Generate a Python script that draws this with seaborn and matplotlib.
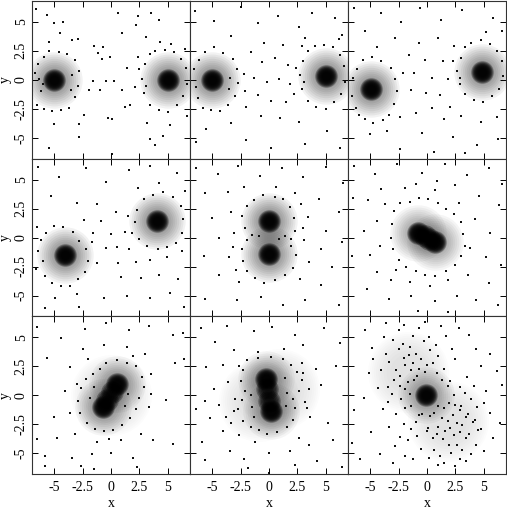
import matplotlib
matplotlib.use("Agg")
import matplotlib.pyplot as plt
import pandas as pd
import seaborn as sns

TICKS = [-5, -2.5, 0, 2.5, 5]
TICK_LABELS = ["-5", "-2.5", "0", "2.5", "5"]

# Centres of the solid cores
CORES = [
    [(-5, 0), (5, 0)],
    [(-5, 0), (5, 0.3)],
    [(-4.9, -0.8), (4.8, 0.7)],
    [(-4, -1.5), (4, 1.4)],
    [(0, -1.4), (0, 1.4)],
    [(-0.8, 0.4), (0.7, -0.4)],
    [(-0.7, -1), (0.5, 1)],
    [(-0.3, 1.4), (0.2, -1.4)],
    [(-0.1, 0)],
]
# Dark bridges seen between close pairs
BRIDGES = [
    [], [], [], [], [],
    [(-0.2, 0.1), (0.2, -0.1)],
    [(-0.35, -0.45), (0.1, 0.3)],
    [(-0.15, 0.5), (0, -0.5)],
    [],
]
# Centres of the grey haze around the cores
HAZE = [
    [(-5, 0), (5, 0)],
    [(-5, 0), (5, 0.3)],
    [(-4.9, -0.8), (4.8, 0.7)],
    [(-4, -1.5), (4, 1.4)],
    [(0, -1.4), (0, 1.4)],
    [(-0.8, 0.4), (0.7, -0.4)],
    [(-0.7, -1), (0.5, 1)],
    [(-0.3, 1.4), (0.2, -1.4)],
    [(-0.1, 0)],
]
# Centres of the wide faint lobes
LOBES = [
    [], [], [], [], [],
    [],
    [(0, 0)],
    [(-0.9, -0.5), (0.9, 0.5)],
    [(-1.7, 2), (1.8, -2.2)],
]

# Scattered single dots, estimated by eye panel by panel
P1 = [(-6.6,6.1),(-5.6,5.6),(-5,4.9),(-4.2,5),(0.6,5.8),(2.4,5.5),(3.5,5.8),(4.2,5.2),(2.2,4.7),(1,4),(3.1,3.7),(4.3,3.3),(5.3,3.1),(-1.5,2.9),(-0.7,2.8),(-1.1,2.3),(-3.4,3.4),(-2.9,3.5),(-4.5,4),(-5.4,3.3),(-0.1,2),(-0.8,1.8),(1.4,1),(0.3,-0.1),(-0.4,-0.1),(-1.6,-0.1),(1,-0.9),(-1.9,-0.9),(-1,-0.9),(1.2,-2.3),(1.7,-2.2),(-0.3,-3.3),(0.1,-3.4),(3.2,-3.7),(5.2,-3.9),(6.7,-3.1),(4.6,-4.8),(3.4,-5.1),(3.9,-5.6),(0.1,-6.4),(-5.4,-5.9),(-2.8,-4.9),(-5,-3.8),(-2.8,-3.8),(-2.4,-3),
(-6.7,0.6),(-6.4,1.4),(-6.1,-1),(-6.5,-2.2),(-5.9,2),(-5.4,2.5),(-4.6,2.4),(-3.9,2.2),(-3.2,1.7),(-2.8,0.8),(-2.9,-0.5),(-3.2,-1.5),(-3.7,-2.4),(-4.4,-2.6),(-5.2,-2.7),(-5.9,-2.5),(-3.4,0.4),(-3.5,-0.9),(-6.3,0.1),(-6,-0.4),
(3,1.4),(3.4,2.2),(3.9,2.5),(4.7,2.6),(5.5,2.4),(6.1,1.8),(6.6,1),(6.7,-0.4),(6.3,-1.4),(5.8,-2.2),(5,-2.8),(4.2,-2.6),(3.4,-2.2),(2.9,-1.1),(2.7,0.1),(3.1,-0.5),(2.5,0.9),(2.1,-0.6),(6.5,2.7),(2.4,2)]
P2 = [(-6.5,5.9),(-4.8,5.1),(-2.5,6.3),(-1,4.9),(0.8,5.5),(2.6,4.6),(3.8,5.8),(5.8,5.3),(6.4,3.9),(-3.3,3.8),(-0.4,3.2),(1.2,3),(2.9,2.9),(-1.6,2.4),(-0.6,1.5),(0.5,1.9),(1.7,1.3),(-1.3,0.2),(-0.2,-0.2),(0.9,0.1),(1.8,-0.4),(-1,-1.3),(0.2,-1.8),(1.5,-1.9),(-2,-2.3),(-0.7,-3.1),(1,-3.3),(2.6,-3.6),(-3.3,-3.7),(-5.5,-4.2),(-6.4,-5.4),(-2,-5.2),(0.2,-5.9),(3.2,-5.5),(5.1,-4.4),(6.2,-5.9),
(-6.6,0.9),(-6.4,-0.6),(-6.1,1.7),(-6.2,-1.6),(-5.6,2.4),(-4.8,2.8),(-4,2.3),(-3.2,1.8),(-2.8,0.9),(-2.7,-0.3),(-3,-1.4),(-3.6,-2.2),(-4.3,-2.7),(-5.1,-2.6),(-5.8,-2.4),(-3.4,0.2),(-3.5,-0.8),(-2.2,0.5),(-2.1,-1),
(3,1.6),(3.4,2.5),(4,2.9),(4.8,3),(5.6,2.8),(6.2,2.1),(6.6,1.2),(6.7,-0.2),(6.3,-1.2),(5.7,-1.9),(5,-2.5),(4.1,-2.3),(3.4,-1.8),(2.9,-0.8),(2.7,0.4),(3.1,-0.2),(2.4,1),(2.2,-1.2),(6.1,3.5),(3.2,3.6)]
P3 = [(-6.4,6.2),(-4,5.8),(-2.3,5),(-0.6,6.2),(1.2,5.2),(3.1,6),(5.8,5.3),(6.6,4.2),(-5.4,4.2),(-2.8,3.6),(-0.7,3.2),(1,3.6),(2.4,2.9),(-1.6,2.1),(-0.2,1.7),(1.4,1.6),(-1.1,0.6),(0.4,0.2),(1.8,0.1),(-1.4,-0.9),(-0.1,-1.1),(1.1,-1.3),(0.4,-2.4),(2,-2.3),(-1,-2.9),(1.5,-3.4),(3,-3.1),(4.7,-3.6),(6.1,-3.2),(-0.4,-4.6),(2.3,-4.9),(4.4,-5.6),(6.2,-5.1),(-2.4,-6),(0.6,-6.2),(3.3,-6.3),
(-6.5,0.2),(-6.6,-1.4),(-6.1,0.9),(-6.2,-2.4),(-5.6,1.7),(-4.8,2),(-4,1.6),(-3.2,1),(-2.8,0.1),(-2.6,-1),(-2.9,-2.1),(-3.3,-3),(-3.9,-3.5),(-4.7,-3.7),(-5.4,-3.4),(-6,-3),(-5,-4.7),(-3.5,-4.4),(-2.4,-3.2),(-2.1,0.6),(-4.4,2.8),
(3,1.9),(3.3,2.8),(3.9,3.2),(4.7,3.4),(5.5,3.1),(6.1,2.5),(6.6,1.6),(6.7,0.3),(6.3,-0.8),(5.7,-1.4),(4.9,-1.9),(4.1,-1.7),(3.3,-1.2),(2.9,-0.4),(2.6,0.8),(2.9,0.2),(2.3,1.6),(5.2,4.1)]
P4 = [(-6.4,6.1),(-4.6,5.2),(-2.2,6),(-0.4,4.8),(1.6,5.8),(3.4,6.2),(5.8,5.6),(6.5,4),(-5.3,3.6),(-3,3),(-1.2,2.9),(-2.4,1.5),(-0.9,1.4),(0.4,2.2),(-1.6,0.4),(0,0.3),(1.2,0.5),(0.5,-0.8),(-0.4,-0.9),(1.6,-1),(-1.2,-2.2),(0.6,-2.2),(2.2,-2.1),(3.4,-1.9),(4.9,-1.7),(6.2,-1.2),(0.9,-3.4),(2.6,-3.5),(4.2,-3.2),(5.9,-3.6),(1.4,-5),(3.4,-5.2),(5.2,-4.8),(-0.6,-5.2),(-2.8,-6),(-5.8,-6.1),(6.4,-6),(-6.5,0.9),
(-6.4,-1.2),(-6.6,-2.7),(-6.1,-0.2),(-5.7,0.4),(-5,1),(-4.2,0.9),(-3.3,0.5),(-2.8,-0.3),(-2.2,-1),(-2,-2),(-2.3,-3),(-2.9,-3.6),(-3.6,-4.2),(-4.4,-4.2),(-5.2,-3.9),(-5.8,-3.3),(-6,-2),(-3,-4.9),(-4.9,-5.2),(-1.7,-0.4),
(2.1,1.3),(2.3,2.4),(2.9,3.3),(3.7,3.7),(4.6,3.9),(5.4,3.5),(6.1,2.7),(6.3,1.6),(6.2,0.4),(5.7,-0.5),(4.9,-0.8),(4.1,-1),(3.2,-0.7),(2.5,-0.1),(1.8,0.4),(1.5,1.9),(2.4,4.3),(4.2,4.7)]
P5 = [(-6.4,6),(-4.5,5.5),(-2.7,6.2),(-0.8,5.3),(1.1,6),(3,5.2),(5,6.1),(6.5,4.7),(-5.6,3.8),(-3.6,3.9),(-2.2,4.4),(0.6,4.4),(2.3,3.8),(4.4,3.3),(6.1,2.2),(-5,1.7),(-3.3,2.2),(3.4,1.8),(5,0.6),(-4.4,0),(-3.1,0.4),(3.1,-0.2),(4.6,-1),(6.4,-0.4),(-5.7,-1.6),(-3.5,-1.7),(3.5,-2.1),(5.5,-2.5),(-4.4,-3.2),(-2.6,-3.8),(2.7,-3.6),(4.6,-4.1),(-5.6,-5.3),(-2.8,-5.4),(-0.7,-5.1),(1.2,-5.8),(3.2,-5.4),(6.1,-5.8),
(-2.4,1.9),(-2.1,0.8),(-1.9,2.7),(-1.3,3.2),(-0.5,3.7),(0.5,3.5),(1.2,3.3),(1.8,2.6),(2.2,1.7),(2.3,0.6),(1.9,-0.1),(-1.9,-0.2),(-2.4,-1),(-2.3,-2),(-1.9,-2.9),(-1.2,-3.5),(-0.4,-3.9),(0.5,-3.7),(1.4,-3.2),(2.1,-2.6),(2.4,-1.5),(1.9,-0.7),(-1.5,0.2),(1.4,0.1),(-0.9,0.1),(0.9,-0.1),(-3.2,-0.8),(3,0.8),(-2.9,-2.8),(2.8,2.9)]
P6 = [(-6.4,6.2),(-4.6,5.5),(-2.6,6.3),(-0.4,5.6),(1.6,6.3),(3.5,5.4),(5.4,6),(6.6,4.6),(-6.5,3.4),(-5.2,3.2),(-4,4.2),(-1.9,4.3),(0.7,4.1),(2.5,4.5),(4.6,3.6),(6.3,2.8),(-5.5,0.6),(-4.4,1.4),(4.2,1.6),(5.5,0.4),(-6.6,-1.6),(-5,-1.5),(-4.1,-0.7),(3.8,-0.9),(5.2,-1.7),(6.5,-2.4),(-4.4,-3),(-3.2,-3.7),(3.6,-3.2),(5.4,-3.9),(-5.3,-4.4),(-3.3,-5.3),(-1.4,-5),(0.7,-5.5),(2.6,-5),(4.3,-5.4),(6.2,-5.8),(-0.8,-6.3),(1.8,-6.4),
(-2.9,2.3),(-2.4,3),(-1.5,3.1),(-0.7,3.4),(0.1,3.3),(1,3),(1.7,2.5),(2.4,2),(3,1.3),(3.2,0.3),(3.3,-0.7),(3,-1.6),(2.5,-2.4),(1.7,-2.9),(0.7,-3.3),(-0.2,-3.2),(-1,-2.9),(-1.8,-2.5),(-2.5,-1.9),(-3,-1),(-3.2,0),(-3.1,1.2),(-2.7,-2.8),(-1.5,-3.8),(0.3,-4.2),(1.8,-3.7),(2.8,3),(0.9,4.9),(-1,4.6),(-3.7,2.9)]
P7 = [(-6.5,5.9),(-4.4,4.9),(-2.3,5.7),(-0.4,6.2),(1.6,5.6),(3.3,6),(5.4,5.2),(6.3,5.4),(-5.6,3.2),(-3.6,2.4),(-2.5,4),(-0.6,4.3),(1.4,4.2),(3,3.6),(5.6,2.8),(6.4,3.1),(-4,0.4),(-3,1),(3.5,0.1),(4.8,-0.4),(-5,-1.9),(-3.6,-1.5),(3.3,-1),(-6.5,-3.8),(-4.7,-3.7),(-3.2,-3.3),(2.6,-3.3),(3.7,-3.9),(5.4,-4.2),(-5.8,-5.2),(-3.4,-5.4),(-1.7,-5.1),(0,-5),(1.9,-5.4),(-5.8,-6.1),(-1.5,-6.4),(2.3,-6.2),(-2.6,-6.1),
(-2.6,0.6),(-2.2,1.4),(-1.6,1.8),(-1,2.3),(-0.4,2.8),(0.5,3),(1.4,2.8),(2.2,2.5),(2.7,1.6),(2.9,0.7),(2.5,-0.2),(2.2,-1.2),(1.7,-2),(1,-2.6),(0.2,-3),(-0.6,-3.1),(-1.4,-2.9),(-2.1,-2.4),(-2.7,-1.5),(-2.9,-0.5),(-1.8,-0.2),(-1.5,0.7),(1.5,0.1),(1.2,-0.9),(-0.2,-3.8),(-1.2,-4),(0.9,-3.9),(-2,3.1),(1.9,3.4),(3.5,1.8)]
P8 = [(-6,5.8),(-3.7,6),(-1.3,5.5),(0.3,5.9),(2.3,5.2),(4.8,5.8),(6.2,4.5),(-4.7,4.6),(-3.1,3.9),(-1,3.7),(1.3,4),(3,4.3),(-5.5,2.4),(-4,2.6),(-2.6,2.5),(2.9,2.8),(4.1,2.3),(5.9,2.5),(-3.6,1.1),(-4.8,0.5),(3.5,0.5),(4.6,0.9),(-5.6,-0.5),(-4.4,-0.8),(-3,-0.3),(3.2,-0.6),(-6.4,-1.2),(-5.2,-2),(-3.8,-1.9),(3.6,-1.9),(5.2,-2.4),(-4,-3.1),(-2.6,-3.4),(-1.2,-4),(2.6,-3.7),(-5.9,-4),(-3.4,-4.8),(0,-5),(1.8,-4.8),(3.5,-4.3),(5.6,-3.9),(-5.6,-5.6),(-2.2,-5.5),(-1.8,-6.3),(0,-6.7),(2.3,-6),(4.2,-5.7),(6.4,-6.2),
(-1.9,3),(-1,3.2),(0.2,3.3),(1.2,3.1),(1.9,2.6),(2.5,2),(2.9,1.3),(2.6,0.4),(2.1,-0.3),(2.3,-1.1),(2.1,-2.1),(1.6,-2.7),(0.7,-3.2),(-0.2,-3.3),(-0.9,-3),(-1.6,-2.7),(-2.3,-2.2),(-2.7,-1.2),(-2.4,-0.4),(-2.1,0.4),(-2.5,1.2),(-2.3,2.2),(-1.5,-1),(-1.6,0),(-1.3,-1.9),(1.4,1.5),(1.6,0.2),(1.5,-0.9),(-3.1,-1.4),(-3.3,-2.4),(3,1.9),(3.3,-1.1)]
P9 = [(-6.4,-1.3),(-6.6,-4.1),(-5.9,-5.5),(-5.4,5.6),(-5.1,1.9),(-5.5,-0.2),(-4.7,3.1),(-4.8,4.1),(-4.3,0.6),(-4.9,-3.2),(-4.1,-5.1),(-3.8,5),(-3.6,3.6),(-4,2.2),(-3.4,0.7),(-3.9,-1.2),(-3.3,-2.7),(-3.6,6.2),(-3,4.8),(-3.3,2.9),(-2.9,1.3),(-3.1,0.1),(-3.4,-0.6),(-2.8,-4.4),(-3,-5.8),(-2.5,4),(-2.7,2.2),(-2.4,0.8),(-2.7,-1.6),(-2.4,-3.6),(-2.5,5.6),(-2.1,4.4),(-2,3.2),(-2.4,1.7),(-1.9,0.5),(-2.3,-0.3),(-2,-2.5),(-1.9,-5.2),(-2,6.1),(-1.6,3.5),(-1.9,2.6),(-1.7,1.1),(-1.5,0.1),(-1.9,-1.1),(-1.4,-2.9),(-1.7,-3.9),(-1.2,5.1),(-1.5,4.2),(-1.2,2.8),(-1.4,2.2),(-1.1,1.3),(-1.4,-0.9),(-0.9,-3.5),(-1.2,-5.5),(-0.7,5.8),(-1,3.6),(-0.7,2.3),(-0.9,1.7),(-0.7,-1.7),(-1,-2.3),(-0.5,-4.6),(-0.3,4.7),(-0.5,3.1),(-0.2,2),(-0.4,-1.6),(0,-3.1),(-0.2,6.3),(0.2,5),(0.3,3.9),(0,2.6),(0.3,-1.8),(0.1,-2.8),(0.5,-3.7),(0.2,-5.4),(0.8,4.3),(0.5,2.8),(0.9,1.9),(0.6,-1.5),(0.9,-3.3),(0.6,-4.7),(1,-6),(1.2,6),(1,3.4),(1.3,1.3),(1,-0.9),(1.3,-2),(1,-2.7),(1.4,-3.8),(1.1,-5.2),(1.7,5.1),(1.5,2.3),(1.8,0.8),(1.5,-1.1),(1.8,-2.2),(1.6,-3.1),(1.9,-4.3),(1.5,-5.8),(2.2,4),(2,1.2),(2.4,0),(1.9,-0.7),(2.3,-1.7),(2,-2.8),(2.4,-3.4),(2.1,-5),(2.5,-6.1),(2.8,5.8),(2.5,3.1),(2.9,0.7),(2.5,-0.8),(2.9,-1.3),(2.6,-2.4),(2.9,-3.2),(2.6,-4.3),(2.9,-5.5),(3.3,0.2),(3,-0.9),(3.4,-1.9),(3.1,-2.6),(3.4,-3.7),(3.1,-4.7),(3.4,-5.7),(3.7,5.2),(3.5,1.6),(3.9,-0.3),(3.6,-1.6),(4,-2.3),(3.7,-3.3),(3.9,-5.1),(4.3,4),(4.1,0.8),(4.4,-1),(4.2,-2.1),(4.5,-3),(4.3,-4.3),(4.7,2.5),(5,-0.7),(4.7,-2.9),(5,-4.8),(5.2,0.4),(5.5,-1.5),(5.5,3.6),(5.8,-3.7),(6.1,2.1),(6.4,-2.4),(6.6,0.9)]
DOTS = [P1, P2, P3, P4, P5, P6, P7, P8, P9]

CORE_SIZES = [50, 75, 100, 125, 150, 180, 215, 260]
BRIDGE_SIZES = [60, 100, 150, 200, 260]
HAZE_SIZES = [200, 300, 400, 520, 650, 800, 980, 1180, 1400, 1650]
LOBE_SIZES = [700, 1000, 1300, 1600, 1900, 2200, 2500, 2800, 3100, 3400]


def frame(points):
    return pd.DataFrame(points, columns=["x", "y"])


def layer(ax, points, sizes, alpha):
    if not points:
        return
    for s in sizes:
        sns.scatterplot(data=frame(points), x="x", y="y", ax=ax, s=s, color="black",
                        alpha=alpha, linewidth=0, legend=False)


plt.rcParams["font.family"] = ["Liberation Serif", "DejaVu Serif"]
fig = plt.figure(figsize=(5.07, 5.09), dpi=100)
W, H = 507, 509
for i in range(9):
    row, col = i // 3, i % 3
    x0 = 32 + col * 158
    y1 = 1 + row * 157.7
    ax = fig.add_axes([x0 / W, 1 - (y1 + 157.7) / H, 158 / W, 157.7 / H])
    layer(ax, LOBES[i], LOBE_SIZES, 0.012)
    layer(ax, HAZE[i], HAZE_SIZES, 0.05 if i < 5 else 0.04)
    layer(ax, BRIDGES[i], BRIDGE_SIZES, 0.3)
    layer(ax, CORES[i], CORE_SIZES, 0.35)
    sns.scatterplot(data=frame(DOTS[i]), x="x", y="y", ax=ax, s=0.6, marker="s",
                    color="#111111", linewidth=0, legend=False)
    ax.set_xlim(-6.93, 6.93)
    ax.set_ylim(-6.8, 6.8)
    ax.set_xticks(TICKS)
    ax.set_yticks(TICKS)
    ax.tick_params(direction="in", length=4, width=0.7, top=True, right=True, labelsize=10)
    ax.tick_params(axis="x", pad=5)
    ax.tick_params(axis="y", pad=3)
    ax.set_xticklabels(TICK_LABELS if row == 2 else [])
    ax.set_yticklabels(TICK_LABELS if col == 0 else [], rotation=90, va="center")
    ax.set_xlabel("x" if row == 2 else "", fontsize=10)
    ax.set_ylabel("y" if col == 0 else "", fontsize=10)
    ax.xaxis.set_label_coords(0.5, -0.148)
    ax.yaxis.set_label_coords(-0.125, 0.5)
    for s in ax.spines.values():
        s.set_linewidth(0.8)
        s.set_color("#333333")
fig.savefig("out.png", dpi=100)
